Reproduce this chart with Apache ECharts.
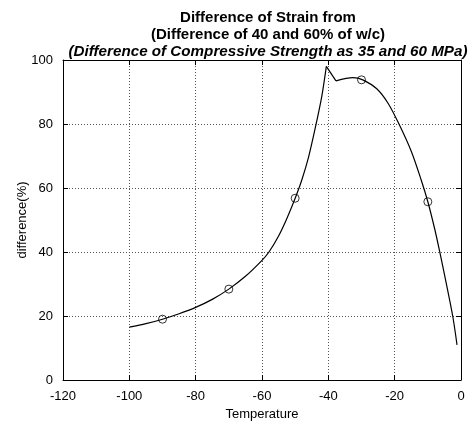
<!DOCTYPE html>
<html>
<head>
<meta charset="utf-8">
<script src="https://cdn.jsdelivr.net/npm/echarts@6/dist/echarts.min.js"></script>
<style>html,body{margin:0;padding:0;background:#fff;}#c{width:476px;height:441px;}</style>
</head>
<body>
<div id="c"></div>
<script>
// Traced curve (three pieces: rise to peak, sharp drop to dip, smooth fall)
const curveX = [-100, -95, -90, -85, -80, -75, -70, -65, -60, -57.9, -55, -52.5, -50, -48, -46, -44, -42, -40.6, -37.7, -32.6, -29.6, -25.4, -22, -18.7, -15, -12, -10, -8, -6.5, -4.5, -2.5, -1.2];
const curveY = [16.5, 17.6, 19, 20.7, 22.7, 25.2, 28.4, 32.4, 37.4, 40, 45, 50.5, 56.8, 62.5, 69.5, 78.5, 88.5, 98, 93.5, 94.5, 93.8, 91, 86.5, 80, 71.5, 62.5, 55.7, 47.5, 40.5, 30.5, 20, 11];
const peakIndex = 17; // (-40.6, 98)
const dipIndex = 18;  // (-37.7, 93.5)
// Measured points (circle markers)
const markerX = [-90, -70, -50, -30, -10];
const markerY = [19, 28.4, 56.8, 93.8, 55.7];
const xTicks = [-120, -100, -80, -60, -40, -20, 0];
const yTicks = [0, 20, 40, 60, 80, 100];

const titleLines = ['Difference of Strain from', '(Difference of 40 and 60% of w/c)', '(Difference of Compressive Strength as 35 and 60 MPa)'];

const pts = curveX.map((x, i) => [x, curveY[i]]);
const chart = echarts.init(document.getElementById('c'), null, {renderer: 'canvas'});
const font = 'Liberation Sans, Arial, sans-serif';
const gridStyle = {show: true, lineStyle: {color: '#555', type: [1, 2], width: 1}};
const lineStyle = {color: '#000', width: 1.2};
chart.setOption({
  animation: false,
  backgroundColor: '#fff',
  title: {
    text: '{a|' + titleLines[0] + '}\n{a|' + titleLines[1] + '}\n{b|' + titleLines[2] + '}',
    left: 263, top: 4, textAlign: 'center',
    textStyle: {
      rich: {
        a: {fontFamily: font, fontSize: 15, fontWeight: 'bold', color: '#000', lineHeight: 17},
        b: {fontFamily: font, fontSize: 15.2, fontWeight: 'bold', fontStyle: 'italic', color: '#000', lineHeight: 17}
      }
    }
  },
  grid: {left: 63, right: 15, top: 60, bottom: 61, show: false},
  xAxis: [{
    type: 'value', min: xTicks[0], max: xTicks[xTicks.length - 1], interval: 20,
    name: 'Temperature', nameLocation: 'middle', nameGap: 28,
    nameTextStyle: {fontFamily: font, fontSize: 13, color: '#000'},
    axisLine: {show: true, onZero: false, lineStyle: {color: '#000', width: 1}},
    axisTick: {show: true, inside: true, length: 5, lineStyle: {color: '#000'}},
    axisLabel: {fontFamily: font, fontSize: 13, color: '#000', margin: 10},
    splitLine: gridStyle
  }, {
    type: 'value', min: xTicks[0], max: xTicks[xTicks.length - 1], interval: 20, position: 'top',
    axisLine: {show: true, onZero: false, lineStyle: {color: '#000', width: 1}},
    axisTick: {show: true, inside: true, length: 5, lineStyle: {color: '#000'}},
    axisLabel: {show: false}, splitLine: {show: false}
  }],
  yAxis: [{
    type: 'value', min: yTicks[0], max: yTicks[yTicks.length - 1], interval: 20,
    name: 'difference(%)', nameLocation: 'middle', nameGap: 34, nameRotate: 90,
    nameMoveOverlap: false,
    nameTextStyle: {fontFamily: font, fontSize: 13, color: '#000'},
    axisLine: {show: true, onZero: false, lineStyle: {color: '#000', width: 1}},
    axisTick: {show: true, inside: true, length: 5, lineStyle: {color: '#000'}},
    axisLabel: {fontFamily: font, fontSize: 13, color: '#000', margin: 10},
    splitLine: gridStyle
  }, {
    type: 'value', min: yTicks[0], max: yTicks[yTicks.length - 1], interval: 20, position: 'right',
    axisLine: {show: true, onZero: false, lineStyle: {color: '#000', width: 1}},
    axisTick: {show: true, inside: true, length: 5, lineStyle: {color: '#000'}},
    axisLabel: {show: false}, splitLine: {show: false}
  }],
  series: [{
    type: 'line', data: pts.slice(0, peakIndex + 1), smooth: 0.3,
    showSymbol: false, lineStyle: lineStyle
  }, {
    type: 'line', data: pts.slice(peakIndex, dipIndex + 1), smooth: false,
    showSymbol: false, lineStyle: lineStyle
  }, {
    type: 'line', data: pts.slice(dipIndex), smooth: 0.3,
    showSymbol: false, lineStyle: lineStyle
  }, {
    type: 'scatter',
    data: markerX.map((x, i) => [x, markerY[i]]),
    symbol: 'circle', symbolSize: 8,
    itemStyle: {color: 'rgba(255,255,255,0)', borderColor: '#000', borderWidth: 1}
  }]
});
</script>
</body>
</html>
